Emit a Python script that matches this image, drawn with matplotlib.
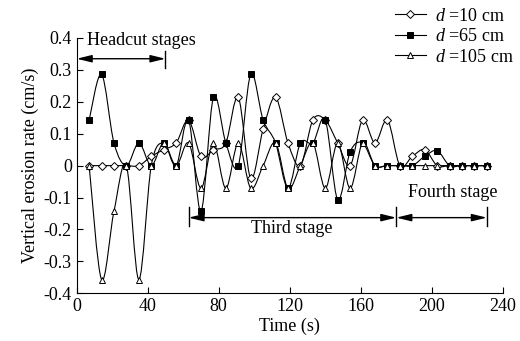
import numpy as np
import matplotlib
matplotlib.use('Agg')
from matplotlib import pyplot as plt
from matplotlib.path import Path
from matplotlib.patches import PathPatch
from matplotlib.lines import Line2D

plt.rcParams['font.family'] = ['Liberation Serif', 'DejaVu Serif']
plt.rcParams['mathtext.fontset'] = 'custom'
plt.rcParams['mathtext.rm'] = 'Liberation Serif'
plt.rcParams['mathtext.it'] = 'Liberation Serif:italic'

# sampling every 7 s
time = [7, 14, 21, 28, 35, 42, 49, 56, 63, 70, 77, 84, 91, 98, 105, 112, 119,
        126, 133, 140, 147, 154, 161, 168, 175, 182, 189, 196, 203, 210, 217, 224, 231]

# vertical erosion rate (cm/s) at three depths
rate_d10 = [0, 0, 0, 0, 0, 0.029, 0.05, 0.071, 0.143, 0.029, 0.05, 0.071, 0.214,
            -0.04, 0.114, 0.214, 0.071, 0, 0.143, 0.143, 0.071, 0, 0.143, 0.071,
            0.143, 0, 0.029, 0.05, 0, 0, 0, 0, 0]
rate_d65 = [0.143, 0.286, 0.071, 0, 0.071, 0, 0.071, 0, 0.143, -0.143, 0.214, 0.071,
            0, 0.286, 0.143, 0.071, -0.071, 0.071, 0.071, 0.143, -0.107, 0.043,
            0.071, 0, 0, 0, 0, 0.029, 0.047, 0, 0, 0, 0]
rate_d105 = [0, -0.357, -0.143, 0, -0.357, 0, 0.071, 0, 0.071, -0.071, 0.071, -0.071,
             0.071, -0.071, 0, 0.071, -0.071, 0, 0.071, -0.071, 0.071, -0.071, 0.071,
             0, 0, 0, 0, 0, 0, 0, 0, 0, 0]

labels = ['$d$ =10 cm', '$d$ =65 cm', '$d$ =105 cm']

# stage boundaries (s)
headcut_end = 50
third_start, third_end, fourth_end = 63, 180, 231


def smooth_path(x, y):
    # Catmull-Rom style bezier through the points (like a smoothed line in Excel)
    p = np.column_stack([x, y]).astype(float)
    verts = [p[0]]
    codes = [Path.MOVETO]
    n = len(p)
    for i in range(n - 1):
        p0 = p[i - 1] if i > 0 else p[i]
        p1, p2 = p[i], p[i + 1]
        p3 = p[i + 2] if i + 2 < n else p[i + 1]
        verts += [p1 + (p2 - p0) / 6, p2 - (p3 - p1) / 6, p2]
        codes += [Path.CURVE4] * 3
    return Path(verts, codes)


fig = plt.figure(figsize=(5.2, 3.41), dpi=100)
ax = fig.add_axes([0.1475, 0.140, 0.8195, 0.7486])

styles = [dict(marker='D', mfc='white', ms=3.6),
          dict(marker='s', mfc='black', ms=3.8),
          dict(marker='^', mfc='white', ms=4.8)]
series = [rate_d10, rate_d65, rate_d105]
order = [0, 2, 1]
for k in order:
    ax.add_patch(PathPatch(smooth_path(time, series[k]), fc='none', ec='black',
                           lw=0.8, zorder=2 + k * 0.1))
    ax.plot(time, series[k], ls='none', mec='black', mew=0.7,
            zorder=3 + k * 0.1, **styles[k])

handles = [Line2D([], [], color='black', lw=0.8, mec='black', mew=0.7, **s)
           for s in styles]
fig.legend(handles, labels, loc='upper right', bbox_to_anchor=(1.012, 1.015),
           frameon=False, fontsize=13, handlelength=1.7, handletextpad=0.5,
           labelspacing=0.2, borderpad=0.2)

ax.set_xlim(0, 240)
ax.set_ylim(-0.4, 0.4)
ax.set_xticks(np.arange(0, 241, 40))
ax.set_yticks(np.arange(-0.4, 0.41, 0.1))
ax.set_yticklabels(['-0.4', '-0.3', '-0.2', '-0.1', '0', '0.1', '0.2', '0.3', '0.4'])
ax.spines['top'].set_visible(False)
ax.spines['right'].set_visible(False)
ax.tick_params(direction='in', labelsize=13, length=4, width=0.8)
ax.set_xlabel('Time (s)', fontsize=13, labelpad=2)
ax.set_ylabel('Vertical erosion rate (cm/s)', fontsize=13, labelpad=3)

# stage annotations
arrow = dict(arrowstyle='<|-|>,head_length=0.9,head_width=0.22', color='black',
             lw=1.0, shrinkA=0, shrinkB=0)
ax.annotate('', xy=(0, 0.335), xytext=(headcut_end, 0.335), arrowprops=arrow,
            annotation_clip=False)
ax.plot([headcut_end, headcut_end], [0.305, 0.36], color='black', lw=1.0)
ax.text(6, 0.393, 'Headcut stages', fontsize=13, ha='left', va='center')

ax.annotate('', xy=(third_start, -0.163), xytext=(third_end, -0.163), arrowprops=arrow)
ax.annotate('', xy=(third_end, -0.163), xytext=(fourth_end, -0.163), arrowprops=arrow)
for xb in [third_start, third_end, fourth_end]:
    ax.plot([xb, xb], [-0.13, -0.19], color='black', lw=1.0)
ax.text(121, -0.198, 'Third stage', fontsize=13, ha='center', va='center')
ax.text(212, -0.085, 'Fourth stage', fontsize=13, ha='center', va='center')

plt.savefig('out.png', dpi=100)
